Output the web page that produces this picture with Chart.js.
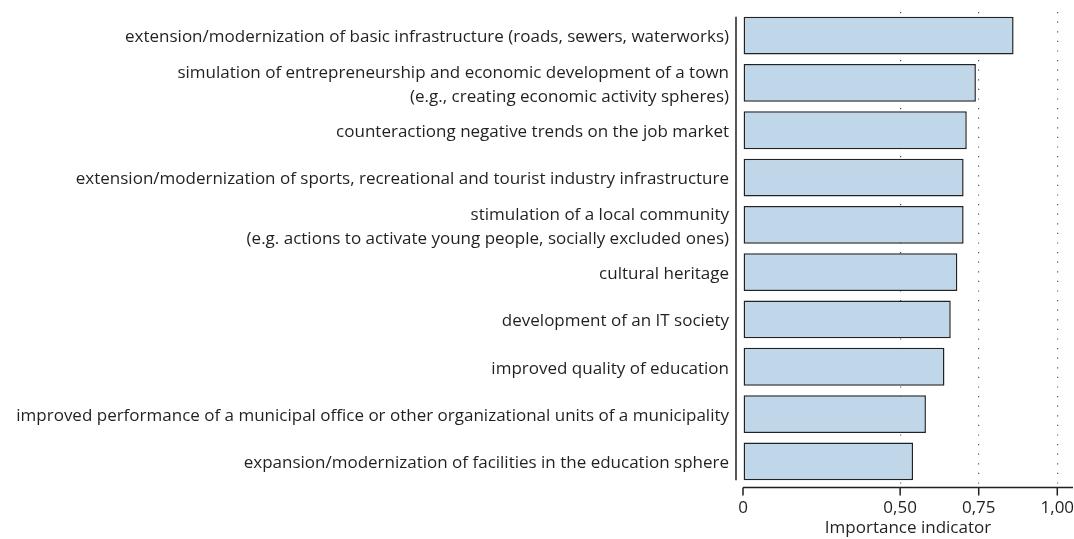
<!DOCTYPE html>
<html>
<head>
<meta charset="utf-8">
<script src="https://cdn.jsdelivr.net/npm/chart.js@4/dist/chart.umd.min.js"></script>
<style>
  html, body { margin: 0; padding: 0; background: #fff; }
  #wrap { width: 1074px; height: 539px; position: relative; }
</style>
</head>
<body>
<div id="wrap"><canvas id="importanceChart"></canvas></div>
<script>
const categories = [
  'extension/modernization of basic infrastructure (roads, sewers, waterworks)',
  ['simulation of entrepreneurship and economic development of a town', '(e.g., creating economic activity spheres)'],
  'counteractiong negative trends on the job market',
  'extension/modernization of sports, recreational and tourist industry infrastructure',
  ['stimulation of a local community', '(e.g. actions to activate young people, socially excluded ones)'],
  'cultural heritage',
  'development of an IT society',
  'improved quality of education',
  'improved performance of a municipal office or other organizational units of a municipality',
  'expansion/modernization of facilities in the education sphere'
];

const importance = [0.861, 0.741, 0.712, 0.702, 0.702, 0.682, 0.661, 0.641, 0.582, 0.541];

const xTicks = [0, 0.5, 0.75, 1.0];
const xTickLabels = ['0', '0,50', '0,75', '1,00'];

const FONT = '"Open Sans"';
const TEXT = '#231f20';

// axis lines drawn apart from the bars, like the original
const axisLines = {
  id: 'axisLines',
  afterDraw(chart) {
    const { ctx, chartArea, scales } = chart;
    const x = scales.x;
    const x0 = x.getPixelForValue(0);
    const yTop = scales.y.getPixelForValue(0) - 19;
    const yBot = scales.y.getPixelForValue(categories.length - 1) + 19;
    ctx.save();
    ctx.strokeStyle = '#231f20';
    ctx.lineWidth = 1.5;
    ctx.beginPath();
    ctx.moveTo(x0 - 7, yTop);
    ctx.lineTo(x0 - 7, yBot);
    const axY = chartArea.bottom + 2.5;
    ctx.moveTo(x0, axY);
    ctx.lineTo(chartArea.right, axY);
    xTicks.forEach(v => {
      const px = x.getPixelForValue(v);
      ctx.moveTo(px, axY);
      ctx.lineTo(px, axY + 8);
    });
    ctx.stroke();
    ctx.restore();
  }
};

new Chart(document.getElementById('importanceChart'), {
  type: 'bar',
  data: {
    labels: categories,
    datasets: [{
      data: importance,
      backgroundColor: '#c0d7ea',
      borderColor: '#222',
      borderWidth: 1.5,
      borderSkipped: false,
      barPercentage: 0.8,
      categoryPercentage: 1.0
    }]
  },
  plugins: [axisLines],
  options: {
    indexAxis: 'y',
    responsive: true,
    maintainAspectRatio: false,
    animation: false,
    layout: { padding: { top: 12, right: 1, bottom: 0, left: 0 } },
    plugins: {
      legend: { display: false },
      tooltip: { enabled: false }
    },
    scales: {
      x: {
        type: 'linear',
        min: 0,
        max: 1.05,
        afterBuildTicks(scale) {
          scale.ticks = xTicks.map(v => ({ value: v }));
        },
        afterFit(scale) {
          scale.height = 54;
          scale.paddingLeft = 0;
          scale.paddingRight = 0;
        },
        border: { display: false, dash: [1.2, 8.4] },
        grid: {
          drawTicks: false,
          color: ctx => (ctx.tick && ctx.tick.value === 0) ? 'rgba(0,0,0,0)' : '#555',
          lineWidth: 1.2
        },
        ticks: {
          padding: 13,
          color: TEXT,
          font: { family: FONT, size: 17 },
          callback: (value) => xTickLabels[xTicks.indexOf(value)] ?? ''
        },
        title: {
          display: true,
          text: 'Importance indicator',
          color: TEXT,
          font: { family: FONT, size: 17 },
          padding: { top: 0, bottom: 1 }
        }
      },
      y: {
        afterFit(scale) {
          scale.width = 743;
          scale.paddingTop = 0;
          scale.paddingBottom = 0;
        },
        border: { display: false },
        grid: { display: false, drawTicks: false },
        ticks: {
          padding: 14,
          labelOffset: 2,
          color: TEXT,
          font: { family: FONT, size: 17, lineHeight: 1.4 },
          autoSkip: false
        }
      }
    }
  }
});
</script>
</body>
</html>
